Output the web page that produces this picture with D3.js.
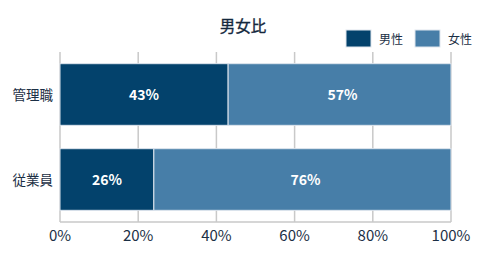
<!DOCTYPE html>
<html>
<head>
<meta charset="utf-8">
<script src="https://cdn.jsdelivr.net/npm/d3@7"></script>
<style>
  body { margin: 0; background: #fff; }
  text { font-family: "Noto Sans CJK JP", "Noto Sans", sans-serif; }
</style>
</head>
<body>
<svg id="chart" width="485" height="256"></svg>
<script>
// data
var categories = ["管理職", "従業員"];
var series = ["男性", "女性"];
var maleValues = [43, 24];     // bar lengths
var femaleValues = [57, 76];
var maleLabels = ["43%", "26%"];  // printed labels (as shown)
var femaleLabels = ["57%", "76%"];
var tickValues = [0, 20, 40, 60, 80, 100];
var colours = ["#03426c", "#477ea8"];

var svg = d3.select("#chart");
var plotLeft = 60, plotRight = 451, plotTop = 52, plotBottom = 222;

var x = d3.scaleLinear().domain([0, 100]).range([plotLeft, plotRight]);
var y = d3.scaleBand().domain(categories).range([plotTop, plotBottom])
    .paddingInner(0.275).paddingOuter(0.1375);

// grid
svg.append("g").selectAll("line").data(tickValues).enter().append("line")
    .attr("x1", function(d) { return x(d); })
    .attr("x2", function(d) { return x(d); })
    .attr("y1", plotTop).attr("y2", plotBottom)
    .attr("stroke", "#c9c9c9").attr("stroke-width", 1.5);

svg.append("line")
    .attr("x1", plotLeft).attr("x2", plotRight)
    .attr("y1", plotBottom).attr("y2", plotBottom)
    .attr("stroke", "#c9c9c9").attr("stroke-width", 1.5);

var rows = categories.map(function(c, i) {
  return {cat: c, m: maleValues[i], f: femaleValues[i], ml: maleLabels[i], fl: femaleLabels[i]};
});

var g = svg.append("g");
// male
g.selectAll("rect.m").data(rows).enter().append("rect")
    .attr("class", "m")
    .attr("x", x(0))
    .attr("y", function(d) { return y(d.cat); })
    .attr("width", function(d) { return x(d.m) - x(0); })
    .attr("height", y.bandwidth())
    .attr("fill", colours[0])
    .attr("stroke", "#dfe6ee").attr("stroke-width", 1);
// female
g.selectAll("rect.f").data(rows).enter().append("rect")
    .attr("class", "f")
    .attr("x", function(d) { return x(d.m); })
    .attr("y", function(d) { return y(d.cat); })
    .attr("width", function(d) { return x(d.m + d.f) - x(d.m); })
    .attr("height", y.bandwidth())
    .attr("fill", colours[1])
    .attr("stroke", "#dfe6ee").attr("stroke-width", 1);

// bar labels
g.selectAll("text.m").data(rows).enter().append("text")
    .attr("class", "m")
    .attr("x", function(d) { return (x(0) + x(d.m)) / 2; })
    .attr("y", function(d) { return y(d.cat) + y.bandwidth() / 2 + 5; })
    .attr("text-anchor", "middle")
    .attr("fill", "#fff").attr("font-weight", "bold").attr("font-size", 14)
    .text(function(d) { return d.ml; });
g.selectAll("text.f").data(rows).enter().append("text")
    .attr("class", "f")
    .attr("x", function(d) { return (x(d.m) + x(d.m + d.f)) / 2 + 3; })
    .attr("y", function(d) { return y(d.cat) + y.bandwidth() / 2 + 5; })
    .attr("text-anchor", "middle")
    .attr("fill", "#fff").attr("font-weight", "bold").attr("font-size", 14)
    .text(function(d) { return d.fl; });

// category labels
svg.append("g").selectAll("text").data(categories).enter().append("text")
    .attr("x", 53)
    .attr("y", function(d) { return y(d) + y.bandwidth() / 2 + 5; })
    .attr("text-anchor", "end")
    .attr("fill", "#1b2f45").attr("font-size", 13.5)
    .text(function(d) { return d; });

// x axis labels
svg.append("g").selectAll("text").data(tickValues).enter().append("text")
    .attr("x", function(d) { return x(d); })
    .attr("y", 241)
    .attr("text-anchor", "middle")
    .attr("fill", "#1b2f45").attr("font-size", 15)
    .text(function(d) { return d + "%"; });

// title
svg.append("text")
    .attr("x", 243).attr("y", 32)
    .attr("text-anchor", "middle")
    .attr("fill", "#15283d").attr("font-size", 15.5)
    .attr("stroke", "#15283d").attr("stroke-width", 0.35)
    .text("男女比");

// legend
var legendX = [346, 415];
var lg = svg.append("g").selectAll("g").data(series).enter().append("g")
    .attr("transform", function(d, i) { return "translate(" + legendX[i] + ",30)"; });
lg.append("rect").attr("width", 25).attr("height", 17)
    .attr("fill", function(d, i) { return colours[i]; })
    .attr("stroke", "#dfe6ee").attr("stroke-width", 1);
lg.append("text").attr("x", 33).attr("y", 13.5)
    .attr("fill", "#1b2f45").attr("font-size", 12)
    .text(function(d) { return d; });
</script>
</body>
</html>
